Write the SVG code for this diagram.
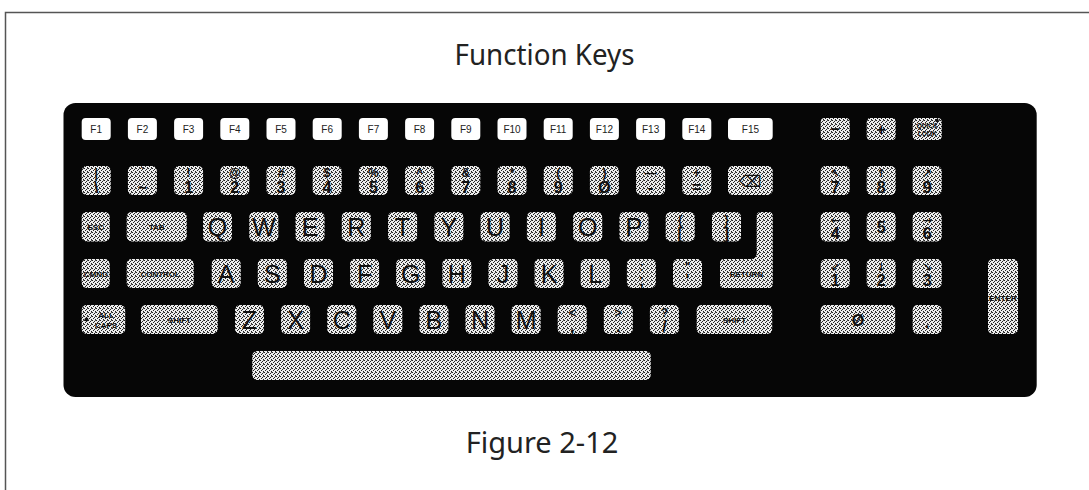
<svg xmlns="http://www.w3.org/2000/svg" width="1089" height="490" viewBox="0 0 1089 490">
<defs>
<pattern id="dither" patternUnits="userSpaceOnUse" width="4" height="4">
<rect width="4" height="4" fill="#ececec"/>
<rect x="0" y="0" width="1" height="1" fill="#222"/>
<rect x="2" y="1" width="1" height="1" fill="#222"/>
<rect x="1" y="2" width="1" height="1" fill="#222"/>
<rect x="3" y="3" width="1" height="1" fill="#222"/>
<rect x="3" y="0" width="1" height="1" fill="#555"/>
</pattern>
<style>
.frame{fill:none;stroke:#555;stroke-width:1.5}
.body{fill:#060606}
.k{fill:url(#dither)}
.f{fill:#fff}
text{font-family:"Liberation Sans",Arial,sans-serif;fill:#111;text-anchor:middle}
.L{font-size:25px}
.s1{font-size:12px;font-weight:bold}
.s2{font-size:16px;font-weight:bold}
.sm{font-size:8px;font-weight:bold}
.xs{font-size:6.5px;font-weight:bold}
.fk{font-size:10px;fill:#222}
.sym{font-family:"DejaVu Sans",sans-serif;font-size:16px}
.ar{font-family:"DejaVu Sans",sans-serif;font-size:11px;font-weight:bold}
.title{font-family:"Noto Sans","Open Sans",sans-serif;font-size:29px;fill:#222}
</style>
</defs>
<rect width="1089" height="490" fill="#fff"/>
<path class="frame" d="M5.5,490 V12.5 H1089"/>
<text class="title" x="544.5" y="65" textLength="180" lengthAdjust="spacingAndGlyphs">Function Keys</text>
<text class="title" x="542" y="453">Figure 2-12</text>

<g id="keyboard">
<rect class="body" x="63.5" y="103" width="973.2" height="294" rx="12"/>
</g>

<g id="function-keys">
<g id="k-f1"><rect class="f" x="81.7" y="118" width="29" height="22" rx="4"/><text class="fk" x="96.2" y="132.5">F1</text></g>
<g id="k-f2"><rect class="f" x="127.9" y="118" width="29" height="22" rx="4"/><text class="fk" x="142.4" y="132.5">F2</text></g>
<g id="k-f3"><rect class="f" x="174.1" y="118" width="29" height="22" rx="4"/><text class="fk" x="188.6" y="132.5">F3</text></g>
<g id="k-f4"><rect class="f" x="220.3" y="118" width="29" height="22" rx="4"/><text class="fk" x="234.8" y="132.5">F4</text></g>
<g id="k-f5"><rect class="f" x="266.5" y="118" width="29" height="22" rx="4"/><text class="fk" x="281" y="132.5">F5</text></g>
<g id="k-f6"><rect class="f" x="312.7" y="118" width="29" height="22" rx="4"/><text class="fk" x="327.2" y="132.5">F6</text></g>
<g id="k-f7"><rect class="f" x="358.9" y="118" width="29" height="22" rx="4"/><text class="fk" x="373.4" y="132.5">F7</text></g>
<g id="k-f8"><rect class="f" x="405.1" y="118" width="29" height="22" rx="4"/><text class="fk" x="419.6" y="132.5">F8</text></g>
<g id="k-f9"><rect class="f" x="451.3" y="118" width="29" height="22" rx="4"/><text class="fk" x="465.8" y="132.5">F9</text></g>
<g id="k-f10"><rect class="f" x="497.5" y="118" width="29" height="22" rx="4"/><text class="fk" x="512" y="132.5">F10</text></g>
<g id="k-f11"><rect class="f" x="543.7" y="118" width="29" height="22" rx="4"/><text class="fk" x="558.2" y="132.5">F11</text></g>
<g id="k-f12"><rect class="f" x="589.9" y="118" width="29" height="22" rx="4"/><text class="fk" x="604.4" y="132.5">F12</text></g>
<g id="k-f13"><rect class="f" x="636.1" y="118" width="29" height="22" rx="4"/><text class="fk" x="650.6" y="132.5">F13</text></g>
<g id="k-f14"><rect class="f" x="682.3" y="118" width="29" height="22" rx="4"/><text class="fk" x="696.8" y="132.5">F14</text></g>
<g id="k-f15"><rect class="f" x="728" y="118" width="44.7" height="22" rx="4"/><text class="fk" x="750.4" y="132.5">F15</text></g>
</g>

<g id="number-row">
<g id="k-bar"><rect class="k" x="81.7" y="166" width="29" height="29" rx="5"/><text class="s1" x="96.2" y="177">|</text><text class="s2" x="96.2" y="192.5">\</text></g>
<g id="k-tilde"><rect class="k" x="127.9" y="166" width="29" height="29" rx="5"/><text class="s1" x="142.4" y="177">`</text><text class="s2" x="142.4" y="192.5">~</text></g>
<g id="k-1"><rect class="k" x="174.1" y="166" width="29" height="29" rx="5"/><text class="s1" x="188.6" y="177">!</text><text class="s2" x="188.6" y="192.5">1</text></g>
<g id="k-2"><rect class="k" x="220.3" y="166" width="29" height="29" rx="5"/><text class="s1" x="234.8" y="177">@</text><text class="s2" x="234.8" y="192.5">2</text></g>
<g id="k-3"><rect class="k" x="266.5" y="166" width="29" height="29" rx="5"/><text class="s1" x="281" y="177">#</text><text class="s2" x="281" y="192.5">3</text></g>
<g id="k-4"><rect class="k" x="312.7" y="166" width="29" height="29" rx="5"/><text class="s1" x="327.2" y="177">$</text><text class="s2" x="327.2" y="192.5">4</text></g>
<g id="k-5"><rect class="k" x="358.9" y="166" width="29" height="29" rx="5"/><text class="s1" x="373.4" y="177">%</text><text class="s2" x="373.4" y="192.5">5</text></g>
<g id="k-6"><rect class="k" x="405.1" y="166" width="29" height="29" rx="5"/><text class="s1" x="419.6" y="177">^</text><text class="s2" x="419.6" y="192.5">6</text></g>
<g id="k-7"><rect class="k" x="451.3" y="166" width="29" height="29" rx="5"/><text class="s1" x="465.8" y="177">&amp;</text><text class="s2" x="465.8" y="192.5">7</text></g>
<g id="k-8"><rect class="k" x="497.5" y="166" width="29" height="29" rx="5"/><text class="s1" x="512" y="177">*</text><text class="s2" x="512" y="192.5">8</text></g>
<g id="k-9"><rect class="k" x="543.7" y="166" width="29" height="29" rx="5"/><text class="s1" x="558.2" y="177">(</text><text class="s2" x="558.2" y="192.5">9</text></g>
<g id="k-0"><rect class="k" x="589.9" y="166" width="29" height="29" rx="5"/><text class="s1" x="604.4" y="177">)</text><text class="s2" x="604.4" y="192.5">Ø</text></g>
<g id="k-minus"><rect class="k" x="636.1" y="166" width="29" height="29" rx="5"/><text class="s1" x="650.6" y="177">—</text><text class="s2" x="650.6" y="192.5">-</text></g>
<g id="k-equal"><rect class="k" x="682.3" y="166" width="29" height="29" rx="5"/><text class="s1" x="696.8" y="177">+</text><text class="s2" x="696.8" y="192.5">=</text></g>
<g id="k-backspace"><rect class="k" x="728" y="166" width="44.7" height="29" rx="5"/><text class="sym" x="750.4" y="186.5">⌫</text></g>
</g>

<g id="qwerty-row">
<g id="k-esc"><rect class="k" x="81.7" y="212" width="28" height="29.5" rx="5"/><text class="sm" x="95.7" y="229.7">ESC</text></g>
<g id="k-tab"><rect class="k" x="126.7" y="212" width="60" height="29.5" rx="5"/><text class="sm" x="156.7" y="229.7">TAB</text></g>
<g id="k-q"><rect class="k" x="203" y="212" width="29" height="29.5" rx="5"/><text class="L" x="217.5" y="235.8">Q</text></g>
<g id="k-w"><rect class="k" x="249.3" y="212" width="29" height="29.5" rx="5"/><text class="L" x="263.8" y="235.8">W</text></g>
<g id="k-e"><rect class="k" x="295.5" y="212" width="29" height="29.5" rx="5"/><text class="L" x="310" y="235.8">E</text></g>
<g id="k-r"><rect class="k" x="341.8" y="212" width="29" height="29.5" rx="5"/><text class="L" x="356.3" y="235.8">R</text></g>
<g id="k-t"><rect class="k" x="388.1" y="212" width="29" height="29.5" rx="5"/><text class="L" x="402.6" y="235.8">T</text></g>
<g id="k-y"><rect class="k" x="434.4" y="212" width="29" height="29.5" rx="5"/><text class="L" x="448.9" y="235.8">Y</text></g>
<g id="k-u"><rect class="k" x="480.6" y="212" width="29" height="29.5" rx="5"/><text class="L" x="495.1" y="235.8">U</text></g>
<g id="k-i"><rect class="k" x="526.9" y="212" width="29" height="29.5" rx="5"/><text class="L" x="541.4" y="235.8">I</text></g>
<g id="k-o"><rect class="k" x="573.2" y="212" width="29" height="29.5" rx="5"/><text class="L" x="587.7" y="235.8">O</text></g>
<g id="k-p"><rect class="k" x="619.4" y="212" width="29" height="29.5" rx="5"/><text class="L" x="633.9" y="235.8">P</text></g>
<g id="k-lbrace"><rect class="k" x="665.7" y="212" width="29" height="29.5" rx="5"/><text class="s1" x="680.2" y="223.5">{</text><text class="s2" x="680.2" y="239">[</text></g>
<g id="k-rbrace"><rect class="k" x="712" y="212" width="29" height="29.5" rx="5"/><text class="s1" x="726.5" y="223.5">}</text><text class="s2" x="726.5" y="239">]</text></g>
<g id="k-return"><path class="k" d="M760.7,212 H768.7 Q772.7,212 772.7,216 V284 Q772.7,288 768.7,288 H724 Q720,288 720,284 V263 Q720,259 724,259 H750.7 Q756.7,259 756.7,253 V216 Q756.7,212 760.7,212 Z"/><text class="sm" x="746.4" y="277">RETURN</text></g>
</g>

<g id="home-row">
<g id="k-cmnd"><rect class="k" x="81.7" y="259" width="28" height="29" rx="5"/><text class="sm" x="95.7" y="276.5">CMND</text></g>
<g id="k-control"><rect class="k" x="126.7" y="259" width="67" height="29" rx="5"/><text class="sm" x="160.2" y="276.5">CONTROL</text></g>
<g id="k-a"><rect class="k" x="211.7" y="259" width="29" height="29" rx="5"/><text class="L" x="226.2" y="282.5">A</text></g>
<g id="k-s"><rect class="k" x="257.8" y="259" width="29" height="29" rx="5"/><text class="L" x="272.3" y="282.5">S</text></g>
<g id="k-d"><rect class="k" x="304" y="259" width="29" height="29" rx="5"/><text class="L" x="318.5" y="282.5">D</text></g>
<g id="k-f"><rect class="k" x="350.1" y="259" width="29" height="29" rx="5"/><text class="L" x="364.6" y="282.5">F</text></g>
<g id="k-g"><rect class="k" x="396.2" y="259" width="29" height="29" rx="5"/><text class="L" x="410.7" y="282.5">G</text></g>
<g id="k-h"><rect class="k" x="442.4" y="259" width="29" height="29" rx="5"/><text class="L" x="456.9" y="282.5">H</text></g>
<g id="k-j"><rect class="k" x="488.5" y="259" width="29" height="29" rx="5"/><text class="L" x="503" y="282.5">J</text></g>
<g id="k-k"><rect class="k" x="534.6" y="259" width="29" height="29" rx="5"/><text class="L" x="549.1" y="282.5">K</text></g>
<g id="k-l"><rect class="k" x="580.7" y="259" width="29" height="29" rx="5"/><text class="L" x="595.2" y="282.5">L</text></g>
<g id="k-semicolon"><rect class="k" x="626.9" y="259" width="29" height="29" rx="5"/><text class="s1" x="641.4" y="270.5">:</text><text class="s2" x="641.4" y="285.5">;</text></g>
<g id="k-quote"><rect class="k" x="673" y="259" width="29" height="29" rx="5"/><text class="s1" x="687.5" y="270.5">"</text><text class="s2" x="687.5" y="285.5">'</text></g>
</g>

<g id="bottom-row">
<g id="k-allcaps"><rect class="k" x="81.7" y="305" width="43.5" height="29" rx="5"/><circle cx="86.5" cy="319.5" r="2" fill="#111"/><text class="sm" x="106" y="317.5">ALL</text><text class="sm" x="106" y="327.5">CAPS</text></g>
<g id="k-shift-left"><rect class="k" x="141" y="305" width="76.7" height="29" rx="5"/><text class="sm" x="179.4" y="322.5">SHIFT</text></g>
<g id="k-z"><rect class="k" x="235" y="305" width="29" height="29" rx="5"/><text class="L" x="249.5" y="328.5">Z</text></g>
<g id="k-x"><rect class="k" x="281.1" y="305" width="29" height="29" rx="5"/><text class="L" x="295.6" y="328.5">X</text></g>
<g id="k-c"><rect class="k" x="327.2" y="305" width="29" height="29" rx="5"/><text class="L" x="341.7" y="328.5">C</text></g>
<g id="k-v"><rect class="k" x="373.3" y="305" width="29" height="29" rx="5"/><text class="L" x="387.8" y="328.5">V</text></g>
<g id="k-b"><rect class="k" x="419.4" y="305" width="29" height="29" rx="5"/><text class="L" x="433.9" y="328.5">B</text></g>
<g id="k-n"><rect class="k" x="465.5" y="305" width="29" height="29" rx="5"/><text class="L" x="480" y="328.5">N</text></g>
<g id="k-m"><rect class="k" x="511.6" y="305" width="29" height="29" rx="5"/><text class="L" x="526.1" y="328.5">M</text></g>
<g id="k-comma"><rect class="k" x="557.7" y="305" width="29" height="29" rx="5"/><text class="s1" x="572.2" y="316.5">&lt;</text><text class="s2" x="572.2" y="331.5">,</text></g>
<g id="k-period"><rect class="k" x="603.8" y="305" width="29" height="29" rx="5"/><text class="s1" x="618.3" y="316.5">&gt;</text><text class="s2" x="618.3" y="331.5">.</text></g>
<g id="k-slash"><rect class="k" x="649.9" y="305" width="29" height="29" rx="5"/><text class="s1" x="664.4" y="316.5">?</text><text class="s2" x="664.4" y="331.5">/</text></g>
<g id="k-shift-right"><rect class="k" x="696.7" y="305" width="75.5" height="29" rx="5"/><text class="sm" x="734.5" y="322.5">SHIFT</text></g>
</g>

<g id="k-space"><rect class="k" x="252.3" y="351" width="398.4" height="29" rx="5"/></g>

<g id="numpad">
<g id="k-np-minus"><rect class="k" x="820.7" y="118" width="29" height="22" rx="4"/><text class="s2" x="835.2" y="134">–</text></g>
<g id="k-np-plus"><rect class="k" x="866.7" y="118" width="29" height="22" rx="4"/><text class="s2" x="881.2" y="134.5">+</text></g>
<g id="k-quicklook"><rect class="k" x="912.7" y="118" width="29" height="22" rx="4"/><circle cx="937" cy="120.5" r="1.8" fill="#111"/><text class="xs" x="927.2" y="128">QUICK</text><text class="xs" x="927.2" y="136">LOOK</text></g>
<g id="k-np7"><rect class="k" x="820.7" y="166" width="29" height="29" rx="5"/><text class="ar" x="835.2" y="177">↖</text><text class="s2" x="835.2" y="192.5">7</text></g>
<g id="k-np8"><rect class="k" x="866.7" y="166" width="29" height="29" rx="5"/><text class="ar" x="881.2" y="177">↑</text><text class="s2" x="881.2" y="192.5">8</text></g>
<g id="k-np9"><rect class="k" x="912.7" y="166" width="29" height="29" rx="5"/><text class="ar" x="927.2" y="177">↗</text><text class="s2" x="927.2" y="192.5">9</text></g>
<g id="k-np4"><rect class="k" x="820.7" y="212" width="29" height="29.5" rx="5"/><text class="ar" x="835.2" y="223.5">←</text><text class="s2" x="835.2" y="239">4</text></g>
<g id="k-np5"><rect class="k" x="866.7" y="212" width="29" height="29.5" rx="5"/><text class="s2" x="881.2" y="232.5">5</text></g>
<g id="k-np6"><rect class="k" x="912.7" y="212" width="29" height="29.5" rx="5"/><text class="ar" x="927.2" y="223.5">→</text><text class="s2" x="927.2" y="239">6</text></g>
<g id="k-np1"><rect class="k" x="820.7" y="259" width="29" height="29" rx="5"/><text class="ar" x="835.2" y="270.5">↙</text><text class="s2" x="835.2" y="285.5">1</text></g>
<g id="k-np2"><rect class="k" x="866.7" y="259" width="29" height="29" rx="5"/><text class="ar" x="881.2" y="270.5">↓</text><text class="s2" x="881.2" y="285.5">2</text></g>
<g id="k-np3"><rect class="k" x="912.7" y="259" width="29" height="29" rx="5"/><text class="ar" x="927.2" y="270.5">↘</text><text class="s2" x="927.2" y="285.5">3</text></g>
<g id="k-np0"><rect class="k" x="820.7" y="305" width="74.5" height="29" rx="5"/><text class="s2" x="858" y="325.5">Ø</text></g>
<g id="k-npdot"><rect class="k" x="912.7" y="305" width="29" height="29" rx="5"/><text class="s2" x="927.2" y="328">.</text></g>
<g id="k-enter"><rect class="k" x="988" y="259" width="30" height="75" rx="5"/><text class="sm" x="1003" y="301" textLength="28" lengthAdjust="spacingAndGlyphs">ENTER</text></g>
</g>
</svg>
